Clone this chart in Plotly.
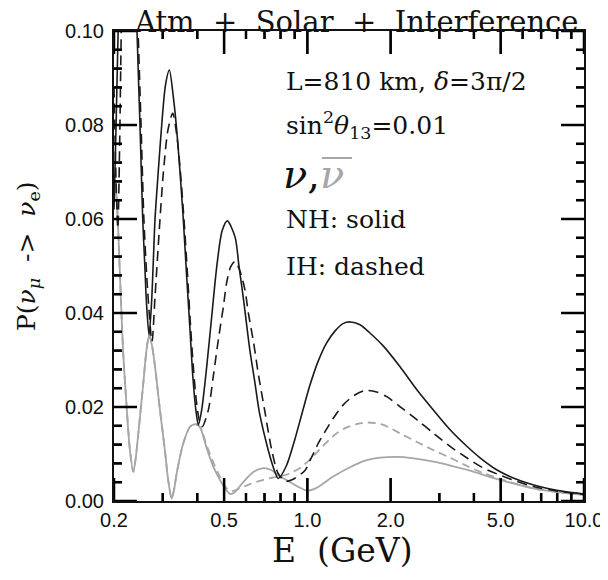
import math
import plotly.graph_objects as go

# ---------------- data ----------------
E_nu_nh = [0.200, 0.2035, 0.207, 0.212, 0.220, 0.230, 0.237, 0.2422, 0.2483, 0.254, 0.2585,
           0.2622, 0.2677, 0.2733, 0.277, 0.2814, 0.289, 0.2975, 0.307, 0.3169, 0.3277, 0.337,
           0.3464, 0.356, 0.366, 0.376, 0.386, 0.396, 0.4035, 0.415, 0.4327, 0.451, 0.472,
           0.492, 0.5136, 0.5476, 0.566, 0.588, 0.620, 0.645, 0.670, 0.710, 0.750, 0.785,
           0.840, 0.900, 0.960, 1.020, 1.090, 1.170, 1.260, 1.350, 1.430, 1.550, 1.680,
           1.880, 2.160, 2.500, 2.850, 3.300, 3.780, 4.210, 4.850, 5.550, 6.400, 7.330,
           8.500, 10.00]
P_nu_nh = [0.062, 0.080, 0.100, 0.125, 0.150, 0.150, 0.125, 0.100, 0.080, 0.060, 0.050,
           0.042, 0.0353, 0.042, 0.050, 0.060, 0.070, 0.080, 0.0885, 0.0917, 0.086, 0.079,
           0.070, 0.060, 0.048, 0.037, 0.026, 0.019, 0.0162, 0.0194, 0.0286, 0.0392, 0.0506,
           0.0575, 0.0596, 0.0562, 0.050, 0.0428, 0.032, 0.0255, 0.019, 0.0125, 0.0075, 0.0048,
           0.0075, 0.013, 0.019, 0.0245, 0.0295, 0.0335, 0.0362, 0.0378, 0.0381, 0.0375, 0.0358,
           0.033, 0.0286, 0.0235, 0.0194, 0.0150, 0.0116, 0.0092, 0.0066, 0.0049, 0.0036, 0.0027,
           0.0020, 0.0015]

E_nu_ih = [0.200, 0.2035, 0.2065, 0.2095, 0.2125, 0.218, 0.228, 0.236, 0.2445, 0.2505, 0.2565,
           0.2645, 0.2744, 0.2814, 0.2916, 0.3015, 0.3135, 0.326, 0.337, 0.347, 0.358, 0.368,
           0.3766, 0.387, 0.3975, 0.4075, 0.417, 0.4387, 0.457, 0.4766, 0.4969, 0.511, 0.528,
           0.548, 0.570, 0.595, 0.612, 0.640, 0.667, 0.700, 0.743, 0.785, 0.835, 0.880, 0.980,
           1.030, 1.096, 1.170, 1.241, 1.350, 1.480, 1.620, 1.780, 1.936, 2.160, 2.500, 2.860,
           3.300, 3.790, 4.300, 4.970, 5.700, 6.550, 8.000, 10.00]
P_nu_ih = [0.088, 0.068, 0.058, 0.075, 0.100, 0.130, 0.150, 0.135, 0.100, 0.080, 0.060,
           0.045, 0.034, 0.0435, 0.0577, 0.0697, 0.079, 0.0825, 0.078, 0.0705, 0.060, 0.049,
           0.039, 0.0286, 0.021, 0.017, 0.0158, 0.0194, 0.0265, 0.0343, 0.0413, 0.0465, 0.0498,
           0.051, 0.049, 0.0449, 0.040, 0.0335, 0.0265, 0.0195, 0.0109, 0.0058, 0.0042, 0.0045,
           0.0065, 0.009, 0.0123, 0.0152, 0.0176, 0.0205, 0.0225, 0.0235, 0.0232, 0.0222, 0.0201,
           0.0172, 0.0144, 0.0115, 0.0091, 0.0071, 0.0055, 0.0042, 0.0031, 0.0021, 0.0014]

E_nub_nh = [0.200, 0.204, 0.207, 0.2105, 0.2157, 0.2222, 0.2283, 0.2349, 0.2395, 0.2449, 0.2552,
            0.262, 0.268, 0.2745, 0.2814, 0.2931, 0.3054, 0.3139, 0.3233, 0.330, 0.337, 0.3561,
            0.3766, 0.390, 0.397, 0.410, 0.4327, 0.457, 0.4828, 0.511, 0.525, 0.545, 0.586,
            0.640, 0.693, 0.740, 0.785, 0.850, 0.915, 1.000, 1.080, 1.240, 1.450, 1.640, 2.100,
            2.860, 3.790, 4.970, 6.550, 8.000, 10.00]
P_nub_nh = [0.068, 0.065, 0.058, 0.047, 0.032, 0.020, 0.0109, 0.0062, 0.009, 0.0144, 0.025,
            0.032, 0.0353, 0.033, 0.0286, 0.0194, 0.0109, 0.0045, 0.0005, 0.0025, 0.0059, 0.0123,
            0.0158, 0.0163, 0.0163, 0.0156, 0.0112, 0.0073, 0.0045, 0.0022, 0.0015, 0.0018, 0.0040,
            0.0062, 0.0070, 0.0066, 0.0055, 0.0043, 0.0032, 0.0022, 0.0028, 0.0052, 0.0074, 0.0087,
            0.0094, 0.0084, 0.0066, 0.0045, 0.0027, 0.0019, 0.0013]

E_nub_ih = [0.200, 0.204, 0.207, 0.2105, 0.2157, 0.2222, 0.2283, 0.2349, 0.2395, 0.2449, 0.2552,
            0.262, 0.268, 0.2745, 0.2814, 0.2931, 0.3054, 0.3139, 0.3233, 0.330, 0.337, 0.3561,
            0.3766, 0.390, 0.397, 0.410, 0.4327, 0.457, 0.4828, 0.511, 0.530, 0.560, 0.620,
            0.693, 0.750, 0.800, 0.860, 0.950, 1.020, 1.130, 1.250, 1.370, 1.520, 1.660, 1.880,
            2.160, 2.500, 2.860, 3.280, 3.790, 4.300, 4.970, 5.700, 6.550, 8.000, 10.00]
P_nub_ih = [0.068, 0.065, 0.058, 0.047, 0.032, 0.020, 0.0109, 0.0062, 0.009, 0.0144, 0.025,
            0.032, 0.0353, 0.033, 0.0286, 0.0194, 0.0109, 0.0045, 0.0005, 0.0025, 0.0059, 0.0123,
            0.0158, 0.0163, 0.0163, 0.0157, 0.0118, 0.0082, 0.0052, 0.0027, 0.0021, 0.0025, 0.0036,
            0.0045, 0.0050, 0.0053, 0.0058, 0.0072, 0.0088, 0.0115, 0.014, 0.0155, 0.0164, 0.0167,
            0.0162, 0.0144, 0.0125, 0.0108, 0.0092, 0.0074, 0.0060, 0.0047, 0.0036, 0.0027,
            0.0019, 0.0014]

x_major = [0.2, 0.5, 1.0, 2.0, 5.0, 10.0]
x_major_text = ["0.2", "0.5", "1.0", "2.0", "5.0", "10.0"]
x_minor = [0.3, 0.4, 0.6, 0.7, 0.8, 0.9, 3, 4, 6, 7, 8, 9]
y_major = [0.0, 0.02, 0.04, 0.06, 0.08, 0.10]
y_major_text = ["0.00", "0.02", "0.04", "0.06", "0.08", "0.10"]
y_minor = [0.004, 0.008, 0.012, 0.016, 0.024, 0.028, 0.032, 0.036, 0.044, 0.048, 0.052,
           0.056, 0.064, 0.068, 0.072, 0.076, 0.084, 0.088, 0.092, 0.096]

# ---------------- figure ----------------
BLACK = "#1a1a1a"
GRAY = "#a6a6a6"
INK = "#111111"
X_RANGE = [0.2, 10.0]
Y_RANGE = [0.0, 0.1]
PLOT_W, PLOT_H = 470, 470          # plot area in px
MAJOR_LEN, MINOR_LEN = 23, 8       # tick lengths in px

fig = go.Figure()
fig.add_trace(go.Scatter(x=E_nub_ih, y=P_nub_ih, mode="lines", hoverinfo="skip",
                         line=dict(color=GRAY, width=1.8, dash="8px,5px", shape="spline", smoothing=0.8)))
fig.add_trace(go.Scatter(x=E_nub_nh, y=P_nub_nh, mode="lines", hoverinfo="skip",
                         line=dict(color=GRAY, width=1.8, shape="spline", smoothing=0.8)))
fig.add_trace(go.Scatter(x=E_nu_ih, y=P_nu_ih, mode="lines", hoverinfo="skip",
                         line=dict(color=BLACK, width=1.6, dash="10px,6px", shape="spline", smoothing=0.8)))
fig.add_trace(go.Scatter(x=E_nu_nh, y=P_nu_nh, mode="lines", hoverinfo="skip",
                         line=dict(color=BLACK, width=1.6, shape="spline", smoothing=0.8)))

# inward tick marks on all four sides, in axis units
decades = math.log10(X_RANGE[1] / X_RANGE[0])
def y_len(px):
    return px * (Y_RANGE[1] - Y_RANGE[0]) / PLOT_H
def x_fac(px):
    return 10 ** (px * decades / PLOT_W)

segments = []   # (x0, x1, y0, y1)
for vals, ln in ((x_major, MAJOR_LEN), (x_minor, MINOR_LEN)):
    for v in vals:
        segments.append((v, v, Y_RANGE[0], Y_RANGE[0] + y_len(ln)))
        segments.append((v, v, Y_RANGE[1], Y_RANGE[1] - y_len(ln)))
for vals, ln in ((y_major, MAJOR_LEN), (y_minor, MINOR_LEN)):
    for v in vals:
        segments.append((X_RANGE[0], X_RANGE[0] * x_fac(ln), v, v))
        segments.append((X_RANGE[1], X_RANGE[1] / x_fac(ln), v, v))

shapes = []
for (a, b, c, d) in segments:
    shapes.append(dict(type="line", xref="x", yref="y", x0=a, x1=b, y0=c, y1=d,
                       line=dict(color="black", width=2.5)))
    fig.add_trace(go.Scatter(x=[a, b], y=[c, d], mode="lines", hoverinfo="skip",
                             line=dict(color=BLACK, width=2)))
# overbar of the antineutrino symbol
shapes.append(dict(type="line", xref="paper", yref="paper", x0=0.4426, x1=0.5064,
                   y0=0.7298, y1=0.7298, line=dict(color=GRAY, width=2)))

tickfont = dict(family="Liberation Sans", size=20, color=INK)
fig.update_layout(
    xaxis=dict(type="log", range=[math.log10(X_RANGE[0]), math.log10(X_RANGE[1])],
               tickmode="array", tickvals=x_major, ticktext=x_major_text, ticks="",
               showline=True, linewidth=2, linecolor=INK, mirror=True, showgrid=False,
               zeroline=False, tickfont=tickfont, ticklabeloverflow="allow"),
    yaxis=dict(range=Y_RANGE, tickmode="array", tickvals=y_major, ticktext=y_major_text,
               ticks="", showline=True, linewidth=2, linecolor=INK, mirror=True,
               showgrid=False, zeroline=False, tickfont=tickfont, ticklabelstandoff=4),
)

serif = "DejaVu Serif"
NB = "\u00a0"
ann = []
ann.append(dict(text="Atm" + NB + " +" + NB + " Solar" + NB + " +" + NB + " Interference",
                x=0.5149, y=1.0191, xref="paper", yref="paper", xanchor="center",
                yanchor="middle", showarrow=False, font=dict(family=serif, size=29, color=INK)))
left = 0.3617
ann.append(dict(text="L=810 km, <i>δ</i>=3π/2", x=left, y=0.8936, xref="paper", yref="paper",
                xanchor="left", yanchor="middle", showarrow=False,
                font=dict(family=serif, size=25, color=INK)))
ann.append(dict(text="sin<sup>2</sup><i>θ</i><sub>13</sub>=0.01", x=left, y=0.80, xref="paper",
                yref="paper", xanchor="left", yanchor="middle", showarrow=False,
                font=dict(family=serif, size=25, color=INK)))
ann.append(dict(text="<i>ν</i>,<span style='color:%s'><i>ν</i></span>" % GRAY, x=0.356,
                y=0.6957, xref="paper", yref="paper", xanchor="left", yanchor="middle",
                showarrow=False, font=dict(family=serif, size=40, color=INK)))
ann.append(dict(text="NH: solid", x=left, y=0.5979, xref="paper", yref="paper",
                xanchor="left", yanchor="middle", showarrow=False,
                font=dict(family=serif, size=25, color=INK)))
ann.append(dict(text="IH: dashed", x=left, y=0.4979, xref="paper", yref="paper",
                xanchor="left", yanchor="middle", showarrow=False,
                font=dict(family=serif, size=25, color=INK)))
ann.append(dict(text="E" + NB + " (GeV)", x=0.486, y=-0.1043, xref="paper", yref="paper",
                xanchor="center", yanchor="middle", showarrow=False,
                font=dict(family=serif, size=33, color=INK)))
ann.append(dict(text="P(<i>ν</i><sub><i>μ</i></sub>" + NB + " ->" + NB + " <i>ν</i><sub>e</sub>)",
                x=-0.1830, y=0.521, xref="paper", yref="paper", xanchor="center",
                yanchor="middle", textangle=-90, showarrow=False,
                font=dict(family=serif, size=25, color=INK)))

# the page adds an 8 px body margin; keep the whole page inside the 608x580 window
fig.update_layout(
    width=592, height=564,
    margin=dict(l=106, r=16, t=23, b=71, autoexpand=False),
    paper_bgcolor="white", plot_bgcolor="white",
    showlegend=False, annotations=ann, shapes=shapes,
)

fig.write_html("out.html")
